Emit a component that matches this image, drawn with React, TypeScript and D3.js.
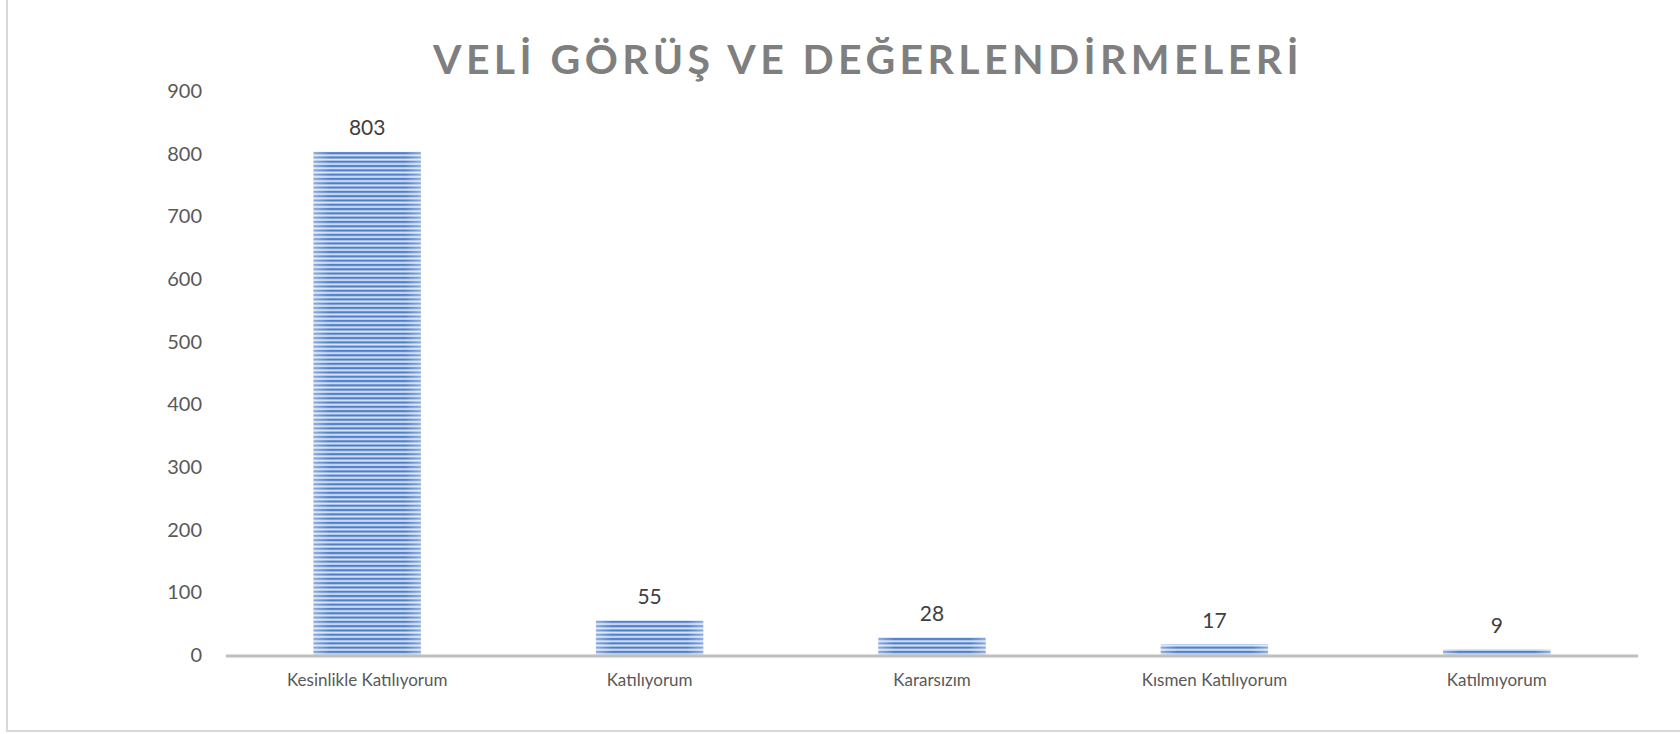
import * as d3 from "d3"

const categories = ["Kesinlikle Katılıyorum", "Katılıyorum", "Kararsızım", "Kısmen Katılıyorum", "Katılmıyorum"]
const values = [803, 55, 28, 17, 9]
const yTicks = [0, 100, 200, 300, 400, 500, 600, 700, 800, 900]
const title = "VELİ GÖRÜŞ VE DEĞERLENDİRMELERİ"

const W = 1680
const H = 734
const font = "Lato, 'Open Sans', sans-serif"

export default function App() {
  const x = d3.scaleBand<string>().domain(categories).range([226, 1638]).paddingInner(0.62).paddingOuter(0.31)
  const y = d3.scaleLinear().domain([0, 900]).range([655, 91])

  return (
    <svg
      width={W}
      height={H}
      style={{ position: "absolute", left: 0, top: 0, background: "#fff" }}
    >
      <defs>
        {/* horizontal stripes like the Excel fill */}
        <pattern id="stripes" patternUnits="userSpaceOnUse" width={8} height={4.3}>
          <rect width={8} height={4.3} fill="#dbe5f3" />
          <rect width={8} height={2.3} y={1.5} fill="#4f7fca" />
        </pattern>
        <linearGradient id="edges" x1="0" x2="1" y1="0" y2="0">
          <stop offset="0" stopColor="#fff" stopOpacity={0.35} />
          <stop offset="0.15" stopColor="#fff" stopOpacity={0} />
          <stop offset="0.85" stopColor="#fff" stopOpacity={0} />
          <stop offset="1" stopColor="#fff" stopOpacity={0.35} />
        </linearGradient>
      </defs>

      {/* chart frame */}
      <rect x={7} y={-10} width={W + 20} height={741} fill="none" stroke="#d9d9d9" strokeWidth={2} />

      <text
        x={868}
        y={74}
        textAnchor="middle"
        fontFamily={font}
        fontWeight="bold"
        fontSize={41}
        letterSpacing={4.4}
        fill="#7f7f7f"
      >
        {title}
      </text>

      {yTicks.map((t) => (
        <text
          key={t}
          x={202}
          y={y(t)}
          dy="0.35em"
          textAnchor="end"
          fontFamily={font}
          fontSize={20}
          fill="#595959"
        >
          {t}
        </text>
      ))}

      {values.map((v, i) => {
        const cx = x(categories[i])!
        return (
          <g key={categories[i]}>
            <rect x={cx} y={y(v)} width={x.bandwidth()} height={y(0) - y(v)} fill="url(#stripes)" />
            <rect x={cx} y={y(v)} width={x.bandwidth()} height={y(0) - y(v)} fill="url(#edges)" />
            <text
              x={cx + x.bandwidth() / 2}
              y={y(v) - 24}
              dy="0.35em"
              textAnchor="middle"
              fontFamily={font}
              fontSize={21}
              fill="#404040"
            >
              {v}
            </text>
          </g>
        )
      })}

      <line x1={226} x2={1638} y1={y(0) + 1} y2={y(0) + 1} stroke="#bfbfbf" strokeWidth={3} />

      {categories.map((c) => (
        <text
          key={c}
          x={x(c)! + x.bandwidth() / 2}
          y={680}
          dy="0.35em"
          textAnchor="middle"
          fontFamily={font}
          fontSize={17}
          fill="#595959"
        >
          {c}
        </text>
      ))}
    </svg>
  )
}
